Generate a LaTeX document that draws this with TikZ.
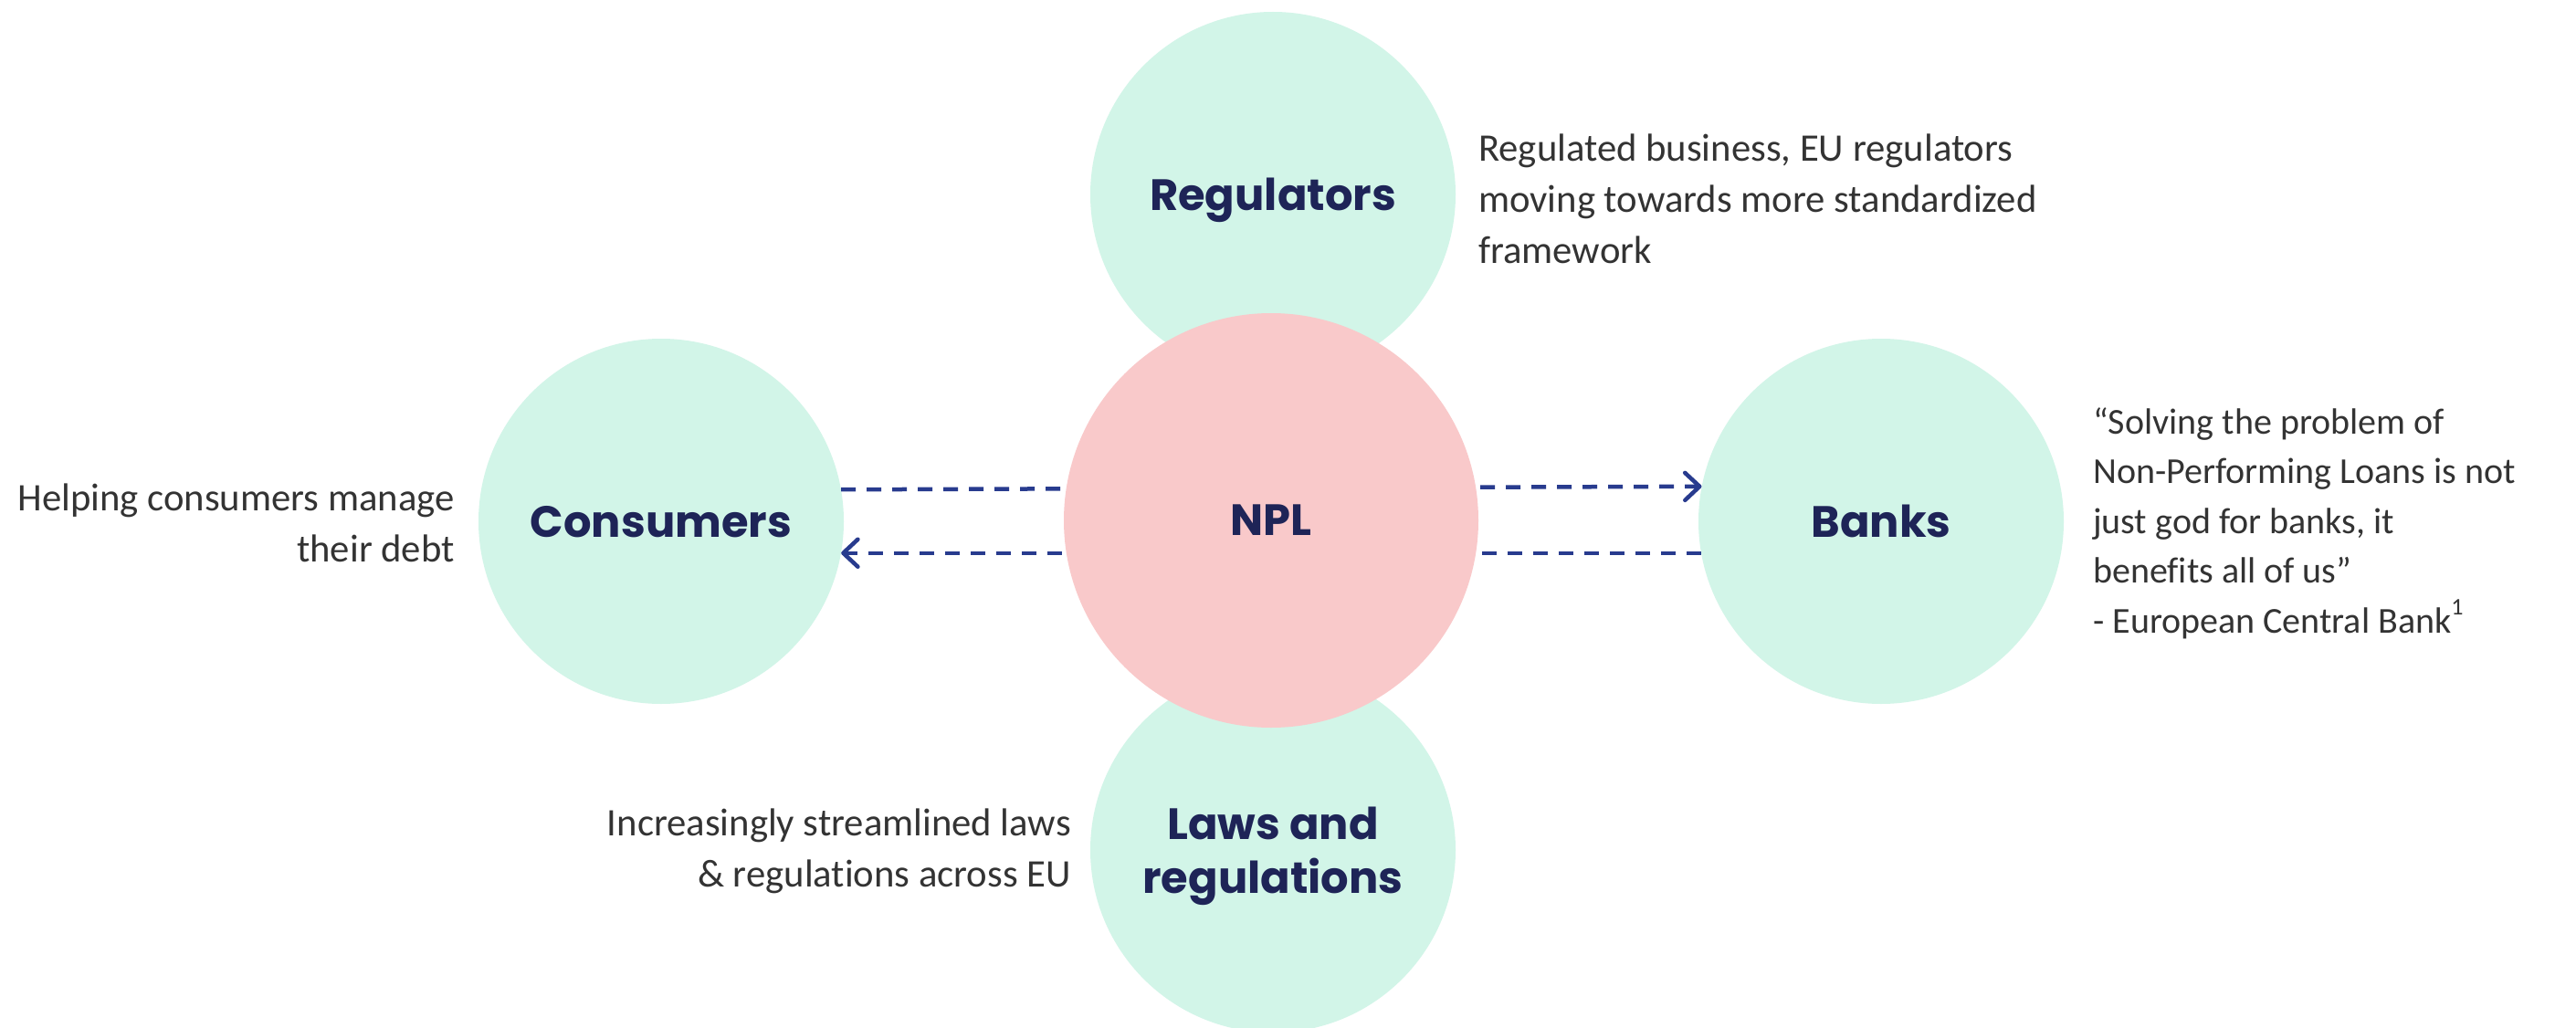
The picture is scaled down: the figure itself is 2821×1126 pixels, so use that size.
\documentclass[tikz,border=0pt]{standalone}
\usepackage{fontspec}
\setmainfont{Carlito}[Ligatures=NoCommon]
\newfontfamily\labfont{Poppins}
\usetikzlibrary{arrows.meta}
\definecolor{mint}{HTML}{D2F5E8}
\definecolor{rose}{HTML}{F9C9CA}
\definecolor{navy}{HTML}{1E2457}
\definecolor{arrowblue}{HTML}{283B8E}
\definecolor{txt}{HTML}{333333}
\begin{document}
\begin{tikzpicture}[x=1pt,y=-1pt,
  bubble/.style={circle, fill=mint, minimum size=400pt, inner sep=0pt, text depth=0pt,
    font=\labfont\bfseries\fontsize{48}{59}\selectfont, text=navy, align=center},
  hub/.style={bubble, fill=rose, minimum size=454pt},
  desc/.style={font=\fontsize{42.7}{56}\selectfont, text=txt, inner sep=0pt},
  quote/.style={desc, font=\fontsize{40}{54.5}\selectfont},
  flow/.style={draw=arrowblue, line width=4.5pt, dash pattern=on 16pt off 12pt,
    -{Straight Barb[length=16pt,width=30pt,round]}}
]
\fill[white] (0,0) rectangle (2821,1126);
\useasboundingbox (0,0) rectangle (2821,1126);
\node[bubble] (reg) at (1394,213) {Regulators};
\node[bubble] (laws) at (1394,931) {Laws and\\regulations};
\node[bubble] (cons) at (724,571) {Consumers};
\node[bubble] (banks) at (2060,571) {Banks};
\draw[flow] (cons.10.4) -- (banks.169.6);
\draw[flow] (banks.190.4) -- (cons.-10.4);
\node[hub] (npl) at (1392,570) {NPL};
\node[desc, align=right, anchor=east] (consdesc) at (498,573) {Helping consumers manage\\their debt};
\node[desc, align=left, anchor=west] (regdesc) at (1619,218) {Regulated business, EU regulators\\moving towards more standardized\\framework};
\node[quote, align=left, anchor=west] (banksdesc) at (2292,573) {“Solving the problem of\\Non-Performing Loans is not\\just god for banks, it\\benefits all of us”\\- European Central Bank\raisebox{0.5em}{\fontsize{26}{26}\selectfont 1}};
\node[desc, align=right, anchor=east] (lawsdesc) at (1173,932) {Increasingly streamlined laws\\\& regulations across EU};
\end{tikzpicture}
\end{document}
